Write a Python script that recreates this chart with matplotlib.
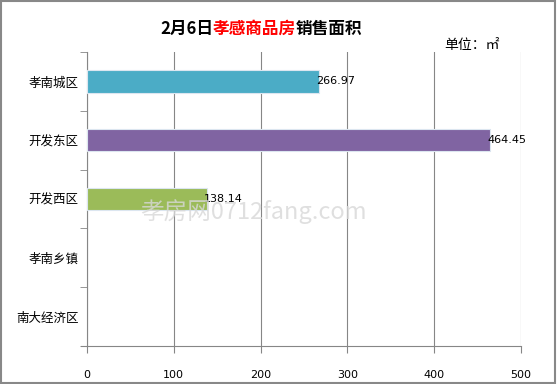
import matplotlib
matplotlib.use("Agg")
import matplotlib.pyplot as plt
from matplotlib.patches import Rectangle

plt.rcParams['font.family'] = ['Noto Sans CJK SC', 'DejaVu Sans']

categories = ["孝南城区", "开发东区", "开发西区", "孝南乡镇", "南大经济区"]
values = [266.97, 464.45, 138.14, 0, 0]
colors = ["#4BACC6", "#8064A2", "#9BBB59", "#4BACC6", "#4BACC6"]
xticks = [0, 100, 200, 300, 400, 500]

fig = plt.figure(figsize=(5.57, 3.84), dpi=100)
W, H = 557, 384
ax = fig.add_axes([87 / W, 1 - 346 / H, (521 - 87) / W, (346 - 52) / H])

y = list(range(len(categories)))
for i, (v, c) in enumerate(zip(values, colors)):
    if v > 0:
        ax.barh(i, v, height=0.38, color=c, edgecolor="#dce6f0", linewidth=0.8, zorder=3)
        ax.annotate(f"{v:.2f}", xy=(v, i), xytext=(-2, 0), textcoords="offset points",
                    ha="left", va="center", fontsize=8, family=["DejaVu Sans"], zorder=5)

ax.set_xlim(0, 500)
ax.set_ylim(len(categories) - 0.5, -0.5)
ax.set_xticks(xticks)
ax.set_xticklabels([str(t) for t in xticks], fontsize=8, family=["DejaVu Sans"])
ax.set_yticks(y)
ax.set_yticklabels(categories, fontsize=9)
ax.tick_params(axis="y", length=0, pad=6)
ax.set_yticks([i + 0.5 for i in range(-1, len(categories))], minor=True)
ax.tick_params(axis="y", which="minor", length=5, color="#868686", direction="out")
ax.tick_params(axis="x", length=5, color="#868686", direction="out", pad=12)
ax.grid(axis="x", color="#868686", linewidth=0.8, zorder=0)
for s in ["top", "right"]:
    ax.spines[s].set_visible(False)
ax.spines["left"].set_color("#868686")
ax.spines["bottom"].set_color("#868686")
ax.plot([-0.014, 0], [0, 0], transform=ax.transAxes, color="#868686", lw=0.8, clip_on=False)

# Title
t1 = fig.text(160 / W, 1 - 29 / H, "2月6日", fontsize=12, fontweight="bold", va="center", ha="left")
fig.canvas.draw()
r = fig.canvas.get_renderer()
bb = t1.get_window_extent(r)
t2 = fig.text(bb.x1 / W, 1 - 29 / H, "孝感商品房", fontsize=12, fontweight="bold", color="#ff0000", va="center", ha="left")
bb2 = t2.get_window_extent(r)
fig.text(bb2.x1 / W, 1 - 29 / H, "销售面积", fontsize=12, fontweight="bold", va="center", ha="left")

fig.text(444 / W, 1 - 45 / H, "单位：㎡", fontsize=10, va="center", ha="left")

# watermark
fig.text(140 / W, 1 - 212 / H, "孝房网0712fang.com", fontsize=17, color="#d8d8d8", alpha=0.8,
         va="center", ha="left", zorder=10)

# border
fig.patches.append(Rectangle((0.002, 0.003), 0.995, 0.994, transform=fig.transFigure,
                             fill=False, edgecolor="#888888", linewidth=1.5))

fig.savefig("out.png", dpi=100)
